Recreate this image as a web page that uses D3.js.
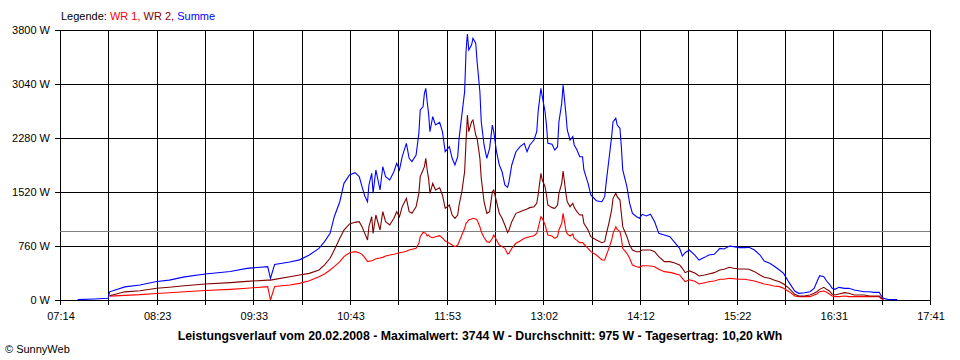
<!DOCTYPE html>
<html>
<head>
<meta charset="utf-8">
<script src="https://cdn.jsdelivr.net/npm/d3@7"></script>
<style>
  body { margin: 0; background: #fff; }
  text { font-family: "Liberation Sans", Arial, sans-serif; font-size: 11px; }
</style>
</head>
<body>
<script>
// x axis: 18 grid steps between first and last label, labels on every 2nd
const xTickLabels = ["07:14", "08:23", "09:33", "10:43", "11:53", "13:02", "14:12", "15:22", "16:31", "17:41"];
const yTicks = [0, 760, 1520, 2280, 3040, 3800];
const average = 975;

const times = ["07:27","07:39","07:49","07:50","08:01","08:12","08:24","08:33","08:44","08:59",
  "09:17","09:29","09:44","09:46","09:49","10:00","10:07","10:14","10:21","10:25",
  "10:29","10:32","10:36","10:39","10:43","10:47","10:50","10:52","10:54","10:56",
  "10:57","10:59","11:00","11:02","11:05","11:07","11:09","11:12","11:15","11:17",
  "11:19","11:21","11:24","11:26","11:28","11:31","11:33","11:34","11:36","11:37",
  "11:38","11:39","11:40","11:41","11:43","11:45","11:48","11:50","11:52","11:55",
  "11:57","11:59","12:01","12:02","12:04","12:06","12:07","12:08","12:09","12:11",
  "12:12","12:14","12:15","12:17","12:18","12:20","12:22","12:24","12:26","12:27",
  "12:29","12:31","12:33","12:35","12:37","12:38","12:40","12:43","12:46","12:49",
  "12:51","12:53","12:56","12:58","12:59","13:01","13:02","13:04","13:05","13:06",
  "13:09","13:11","13:13","13:14","13:16","13:17","13:19","13:20","13:22","13:24",
  "13:25","13:27","13:29","13:31","13:32","13:35","13:37","13:41","13:45","13:47",
  "13:48","13:50","13:52","13:53","13:55","13:56","13:58","13:59","14:00","14:03",
  "14:05","14:07","14:10","14:12","14:14","14:17","14:20","14:23","14:26","14:30",
  "14:34","14:37","14:41","14:43","14:45","14:48","14:52","14:55","14:59","15:02",
  "15:06","15:10","15:13","15:17","15:20","15:24","15:28","15:31","15:35","15:39",
  "15:42","15:46","15:49","15:53","15:56","16:00","16:04","16:07","16:11","16:15",
  "16:18","16:20","16:22","16:25","16:27","16:29","16:31","16:33","16:36","16:40",
  "16:43","16:47","16:51","16:54","16:58","17:01","17:05","17:06","17:08","17:11",
  "17:18"];

const wr1 = [null,null,null,55,65,75,92,103,117,133,
  150,165,188,0,190,211,234,272,328,366,
  422,469,540,610,666,680,666,643,596,540,
  545,553,560,580,590,600,619,633,645,655,
  666,672,685,704,715,727,798,891,952,945,
  938,901,915,890,877,891,905,875,830,798,
  774,751,774,821,915,1009,1079,1100,1126,1140,
  1150,1140,1126,1032,960,880,821,812,868,915,
  844,774,751,727,647,657,727,798,830,868,
  880,891,905,938,1009,1172,1150,1056,985,915,
  900,868,891,985,1079,1220,985,929,901,929,
  868,840,807,807,788,727,680,633,563,563,
  619,727,844,938,1032,995,962,868,727,657,
  587,493,469,460,483,483,479,469,432,399,
  389,375,352,305,258,285,265,225,244,258,
  267,291,291,305,300,291,291,281,267,244,
  225,211,197,188,164,117,56,47,47,47,
  70,84,117,127,108,84,56,47,47,56,
  47,47,47,47,47,47,47,23,5,null,
  null];

const wr2 = [null,null,null,60,115,130,165,180,200,225,
  245,262,280,280,290,328,352,375,422,493,
  587,704,868,985,1070,1093,1102,1032,938,844,
  1032,1172,938,1196,985,1243,1102,1056,1150,1243,
  1172,1313,1431,1243,1220,1313,1501,1736,1830,1876,
  1994,1830,1712,1501,1640,1548,1580,1478,1290,1337,
  1196,1150,1196,1337,1525,1806,2228,2604,2369,2509,
  2533,2322,2275,1994,1712,1383,1220,1243,1525,1548,
  1383,1220,1150,1056,952,985,1102,1220,1243,1267,
  1281,1300,1313,1361,1478,1783,1689,1595,1478,1337,
  1300,1290,1337,1502,1642,1816,1502,1383,1313,1361,
  1304,1243,1196,1200,1079,985,891,844,807,821,
  915,1079,1267,1431,1502,1454,1407,1220,1032,891,
  774,704,680,680,704,704,704,680,610,540,
  540,525,493,446,385,410,380,338,352,366,
  385,422,432,460,446,436,436,432,399,352,
  319,305,281,258,225,164,80,56,56,70,
  94,117,150,178,150,127,84,70,84,103,
  94,70,70,70,56,56,56,38,10,null,
  null];

const summe = [5,15,25,115,185,210,260,280,325,365,
  400,445,470,305,500,535,565,633,727,821,
  938,1172,1383,1642,1760,1792,1736,1595,1464,1383,
  1619,1783,1502,1830,1548,1876,1736,1689,1806,1924,
  1830,2017,2205,1994,1947,2040,2346,2674,2720,2909,
  2979,2791,2627,2369,2580,2463,2500,2369,2087,2158,
  1994,1900,2017,2275,2604,2932,3495,3744,3519,3589,
  3683,3613,3354,2932,2509,2182,1994,2134,2463,2369,
  2087,1900,1806,1619,1586,1665,1900,2087,2158,2205,
  2087,2182,2252,2369,2650,2979,2862,2650,2463,2205,
  2191,2111,2158,2509,2768,3026,2627,2393,2252,2299,
  2182,2111,2017,2017,1830,1642,1478,1398,1383,1454,
  1642,1970,2299,2509,2557,2463,2416,2158,1830,1595,
  1360,1220,1172,1150,1206,1182,1206,1102,938,915,
  891,821,727,619,666,704,633,563,600,633,
  643,727,718,760,751,737,737,741,704,633,
  549,516,479,422,375,244,127,94,103,117,
  164,258,342,328,267,225,164,150,178,164,
  164,141,127,117,117,108,108,70,23,9,
  5];

const w = 960;
const h = 360;
const padL = 60, padR = 930, padT = 30, padB = 300;

const toMin = (s) => {
  const p = s.split(":");
  return +p[0] * 60 + +p[1];
};

// axis start/end lie a few seconds past the full minute (07:14:15 .. 17:41:33)
const tStart = toMin(xTickLabels[0]) + 0.25;
const tEnd = toMin(xTickLabels[xTickLabels.length - 1]) + 0.55;

const x = d3.scaleLinear().domain([tStart, tEnd]).range([padL, padR]);
const y = d3.scaleLinear().domain([0, 3800]).range([padB, padT]);

const svg = d3.select("body")
  .append("svg")
  .attr("width", w)
  .attr("height", h);

svg.append("rect")
  .attr("width", w)
  .attr("height", h)
  .attr("fill", "#fff");

// grid
const gridTicks = d3.range(19).map(i => tStart + i * (tEnd - tStart) / 18);
const grid = svg.append("g").attr("shape-rendering", "crispEdges");

grid.selectAll(".vline")
  .data(gridTicks)
  .join("line")
  .attr("x1", d => Math.round(x(d)) + 0.5)
  .attr("x2", d => Math.round(x(d)) + 0.5)
  .attr("y1", padT)
  .attr("y2", padB + 5)
  .attr("stroke", "#000");

grid.selectAll(".hline")
  .data(yTicks)
  .join("line")
  .attr("x1", padL - 5)
  .attr("x2", padR + 1)
  .attr("y1", d => Math.round(y(d)) + 0.5)
  .attr("y2", d => Math.round(y(d)) + 0.5)
  .attr("stroke", "#000");

// average line
grid.append("line")
  .attr("x1", padL)
  .attr("x2", padR)
  .attr("y1", Math.round(y(average)) + 0.5)
  .attr("y2", Math.round(y(average)) + 0.5)
  .attr("stroke", "#808080");

// y labels
svg.selectAll(".ylab")
  .data(yTicks)
  .join("text")
  .attr("x", 50)
  .attr("y", d => y(d) + 4)
  .attr("text-anchor", "end")
  .text(d => d + " W");

// x labels
svg.selectAll(".xlab")
  .data(xTickLabels)
  .join("text")
  .attr("x", (d, i) => x(gridTicks[i * 2]) + 1)
  .attr("y", 320)
  .attr("text-anchor", "middle")
  .text(d => d);

// series
const series = [
  { name: "WR 1", values: wr1, color: "#ff0000" },
  { name: "WR 2", values: wr2, color: "#800000" },
  { name: "Summe", values: summe, color: "#0000ff" }
];

const line = d3.line()
  .defined(d => d[1] != null)
  .x(d => x(toMin(d[0])))
  .y(d => y(d[1]));

svg.selectAll(".series")
  .data(series)
  .join("path")
  .attr("d", s => line(times.map((t, i) => [t, s.values[i]])))
  .attr("fill", "none")
  .attr("stroke", s => s.color)
  .attr("stroke-width", 1.1)
  .attr("stroke-linejoin", "miter");

// legend
const legend = svg.append("text")
  .attr("x", 61)
  .attr("y", 20);
legend.append("tspan").attr("fill", "#000").text("Legende: ");
series.forEach((s, i) => {
  legend.append("tspan")
    .attr("fill", s.color)
    .text(s.name + (i < series.length - 1 ? ", " : ""));
});

// title
svg.append("text")
  .attr("x", 480)
  .attr("y", 340)
  .attr("text-anchor", "middle")
  .style("font-weight", "bold")
  .style("font-size", "12.3px")
  .text("Leistungsverlauf vom 20.02.2008 - Maximalwert: 3744 W - Durchschnitt: 975 W - Tagesertrag: 10,20 kWh");

svg.append("text")
  .attr("x", 5)
  .attr("y", 353)
  .text("© SunnyWeb");
</script>
</body>
</html>
